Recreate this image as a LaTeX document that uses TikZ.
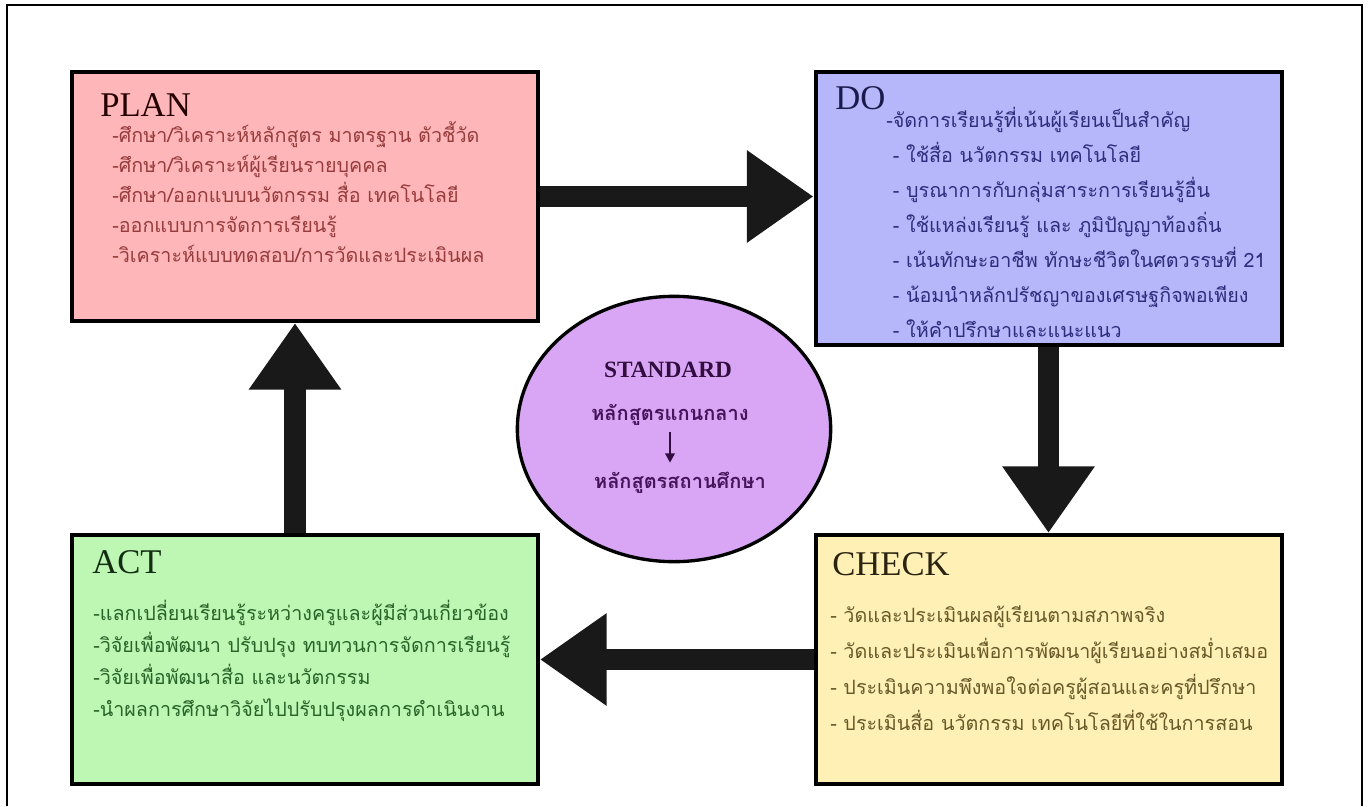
\documentclass[tikz,border=0pt]{standalone}
\usepackage{fontspec}
\setmainfont{Liberation Serif}
\newfontfamily\thaifont[Script=Thai]{Loma}
\usetikzlibrary{arrows.meta, positioning, shapes.geometric}
\definecolor{planfill}{RGB}{255,182,184}
\definecolor{dofill}{RGB}{182,182,250}
\definecolor{actfill}{RGB}{190,246,180}
\definecolor{checkfill}{RGB}{255,240,182}
\definecolor{stdfill}{RGB}{216,166,244}
\definecolor{plantext}{RGB}{150,60,60}
\definecolor{dotext}{RGB}{45,45,125}
\definecolor{acttext}{RGB}{40,100,40}
\definecolor{checktext}{RGB}{105,88,40}
\definecolor{stdtext}{RGB}{70,20,90}

\begin{document}
\begin{tikzpicture}[x=0.75pt, y=-0.75pt,
        box/.style={draw=black, line width=3pt, rectangle, inner sep=0pt,
                    minimum width=349.5pt, minimum height=186.75pt},
        title/.style={anchor=base west, inner sep=0pt, font=\fontsize{26}{30}\selectfont},
        list/.style={anchor=base west, inner sep=0pt, align=left},
        bigarr/.style={draw=black!90, line width=16pt, -{Triangle[length=50pt, width=66pt]}},
        frame/.style={draw=black, line width=2pt},
    ]
    \useasboundingbox (0,0) rectangle (1369,806);
    \draw[frame] (7,806) -- (7,5) -- (1362,5) -- (1362,806);

    \node[box, fill=planfill] (plan) at (305,196.5) {};
    \node[box, fill=dofill, minimum height=204.75pt] (do) at (1048.5,208.5) {};
    \node[box, fill=actfill] (act) at (305,659.5) {};
    \node[box, fill=checkfill] (check) at (1048.5,659.5) {};
    \node[ellipse, draw=black, line width=2.5pt, fill=stdfill, inner sep=0pt,
          minimum width=235pt, minimum height=199pt] (std) at (674,429) {};

    \node[title, text=black!85!red] (plantitle) at (100,117) {PLAN};
    \node[title, text=dotext!60!black] (dotitle) at (835,110) {DO};
    \node[title, text=acttext!45!black] (acttitle) at (92,573) {ACT};
    \node[title, text=checktext!40!black] (checktitle) at (832,575) {CHECK};

    \node[list, text=plantext, font=\thaifont\fontsize{14.8}{22.5}\selectfont] (planlist) at (112,262)
        {-ศึกษา/วิเคราะห์หลักสูตร มาตรฐาน ตัวชี้วัด\\
         -ศึกษา/วิเคราะห์ผู้เรียนรายบุคคล\\
         -ศึกษา/ออกแบบนวัตกรรม สื่อ เทคโนโลยี\\
         -ออกแบบการจัดการเรียนรู้\\
         -วิเคราะห์แบบทดสอบ/การวัดและประเมินผล};
    \node[list, text=dotext, font=\thaifont\fontsize{14.8}{26.25}\selectfont] (dolist) at (886,337)
        {-จัดการเรียนรู้ที่เน้นผู้เรียนเป็นสำคัญ\\
         \ - ใช้สื่อ นวัตกรรม เทคโนโลยี\\
         \ - บูรณาการกับกลุ่มสาระการเรียนรู้อื่น\\
         \ - ใช้แหล่งเรียนรู้ และ ภูมิปัญญาท้องถิ่น\\
         \ - เน้นทักษะอาชีพ ทักษะชีวิตในศตวรรษที่ 21\\
         \ - น้อมนำหลักปรัชญาของเศรษฐกิจพอเพียง\\
         \ - ให้คำปรึกษาและแนะแนว};
    \node[list, text=acttext, font=\thaifont\fontsize{14.8}{24}\selectfont] (actlist) at (93,716)
        {-แลกเปลี่ยนเรียนรู้ระหว่างครูและผู้มีส่วนเกี่ยวข้อง\\
         -วิจัยเพื่อพัฒนา ปรับปรุง ทบทวนการจัดการเรียนรู้\\
         -วิจัยเพื่อพัฒนาสื่อ และนวัตกรรม\\
         -นำผลการศึกษาวิจัยไปปรับปรุงผลการดำเนินงาน};
    \node[list, text=checktext, font=\thaifont\fontsize{14.8}{27}\selectfont] (checklist) at (830,730)
        {- วัดและประเมินผลผู้เรียนตามสภาพจริง\\
         - วัดและประเมินเพื่อการพัฒนาผู้เรียนอย่างสม่ำเสมอ\\
         - ประเมินความพึงพอใจต่อครูผู้สอนและครูที่ปรึกษา\\
         - ประเมินสื่อ นวัตกรรม เทคโนโลยีที่ใช้ในการสอน};

    \node[text=stdtext!70!black, font=\bfseries\fontsize{17.5}{20}\selectfont, inner sep=0pt] (stdtitle) at (668,370) {STANDARD};
    \node[text=stdtext, font=\thaifont\bfseries\fontsize{15}{17}\selectfont, inner sep=0pt] (core) at (670,415) {หลักสูตรแกนกลาง};
    \node[text=stdtext, font=\thaifont\bfseries\fontsize{15}{17}\selectfont, inner sep=0pt] (school) at (680,483) {หลักสูตรสถานศึกษา};
    \draw[stdtext!70!black, line width=2pt, -{Triangle[length=7pt, width=7pt]}]
        ([yshift=-5pt]core.south) -- ([yshift=7pt]core.south |- school.north);

    \draw[bigarr] (plan.east) -- (plan.east -| do.west);
    \draw[bigarr] (do.south) -- (do.south |- check.north);
    \draw[bigarr] (check.west) -- (check.west -| act.east);
    \coordinate (actup) at ([xshift=-7.5pt]act.north);
    \draw[bigarr] (actup) -- (actup |- plan.south);
\end{tikzpicture}
\end{document}
